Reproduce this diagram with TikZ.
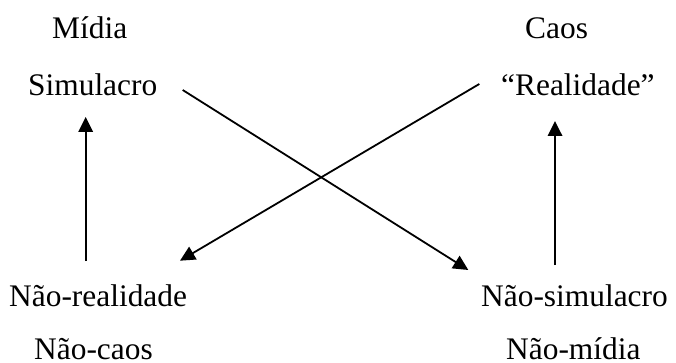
\documentclass[tikz,border=0pt]{standalone}
\usepackage{fontspec}
\setmainfont{Liberation Serif}
\usetikzlibrary{arrows.meta}
\begin{document}
\begin{tikzpicture}[x=1pt,y=-1pt,
  lbl/.style={anchor=base west,inner sep=0pt,font=\fontsize{31.4}{36}\selectfont},
  arr/.style={line width=1.8pt,-{Triangle[length=15pt,width=14.5pt]}}]
\useasboundingbox (0,0) rectangle (676,363);
\node[lbl] (midia) at (52,39) {Mídia};
\node[lbl] (simulacro) at (28,96) {Simulacro};
\node[lbl] (caos) at (525,39) {Caos};
\node[lbl] (realidade) at (501,96) {“Realidade”};
\node[lbl] (naorealidade) at (9,306) {Não-realidade};
\node[lbl] (naocaos) at (34,359.5) {Não-caos};
\node[lbl] (naosimulacro) at (481,306) {Não-simulacro};
\node[lbl] (naomidia) at (506,359.5) {Não-mídia};
\coordinate (lb) at (85.7,261);
\coordinate (lt) at (85.7,117);
\coordinate (rb) at (555,265);
\coordinate (rt) at (555,121);
\coordinate (d1s) at (182.7,90);
\coordinate (d1e) at (468.3,270);
\coordinate (d2s) at (479.3,84);
\coordinate (d2e) at (180,260.7);
\draw[arr] (lb) -- (lt);
\draw[arr] (rb) -- (rt);
\draw[arr] (d1s) -- (d1e);
\draw[arr] (d2s) -- (d2e);
\end{tikzpicture}
\end{document}
